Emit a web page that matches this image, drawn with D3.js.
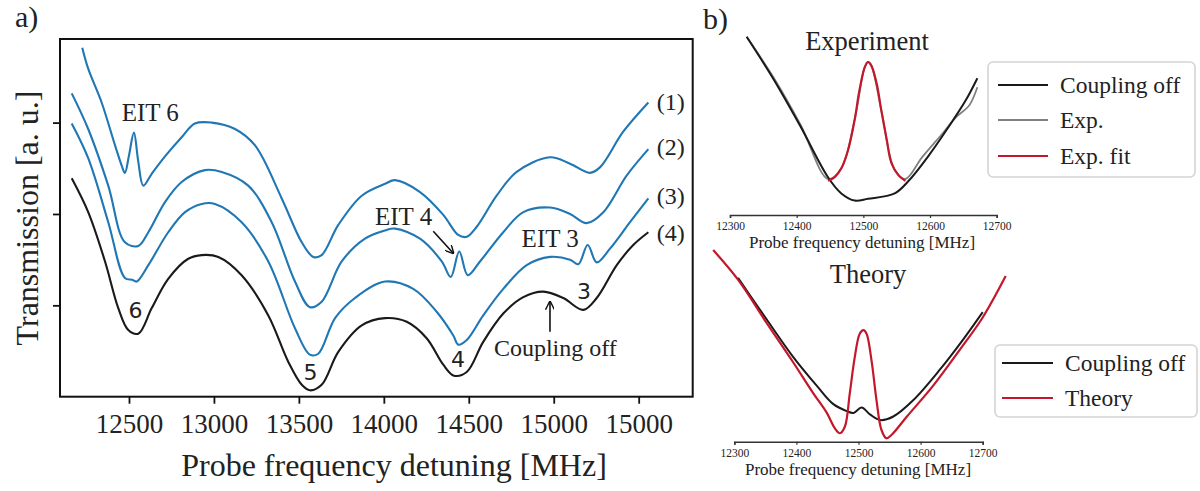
<!DOCTYPE html>
<html><head><meta charset="utf-8">
<script src="https://cdn.jsdelivr.net/npm/d3@7"></script>
<style>
body{margin:0;background:#fff;}
svg{display:block;}
.serif{font-family:"Liberation Serif","DejaVu Serif",serif;fill:#222;}
.sans{font-family:"DejaVu Sans",sans-serif;fill:#222;}
</style>
</head><body>
<svg id="c" width="1200" height="491"></svg>
<script>
// ---------- Panel a) data ----------
const ticksA = [12500,13000,13500,14000,14500,15000,15500];
const tickLabelsA = ["12500","13000","13500","14000","14500","15000","15000"];
const yTicksA = [1,2,3];

const f1 = [12225,12260,12339,12418,12457,12476,12500,12529,12555,12584,12634,12712,12810,12888,12987,13124,13242,13399,13517,13585,13634,13732,13870,14007,14066,14213,14350,14438,14488,14547,14664,14782,14978,15096,15213,15272,15409,15557];
const t1 = [3.82,3.59,3.22,2.75,2.53,2.45,2.64,2.89,2.57,2.31,2.44,2.63,2.84,2.99,3.00,2.93,2.75,2.17,1.69,1.53,1.55,1.88,2.20,2.33,2.37,2.24,1.99,1.77,1.75,1.86,2.20,2.46,2.62,2.55,2.45,2.51,2.90,3.22];

const f2 = [12163,12260,12378,12476,12555,12614,12712,12810,12947,13046,13202,13340,13477,13565,13634,13752,13889,14007,14066,14213,14341,14394,14444,14494,14566,14703,14821,14978,15096,15194,15292,15429,15557];
const t2 = [3.32,2.93,2.31,1.69,1.65,1.80,2.13,2.35,2.48,2.46,2.31,1.91,1.26,0.98,1.04,1.48,1.73,1.82,1.84,1.73,1.48,1.31,1.59,1.33,1.48,1.80,2.02,2.07,2.00,1.90,2.02,2.42,2.71];

const f3 = [12163,12260,12378,12476,12519,12545,12614,12731,12830,12928,13006,13163,13320,13477,13565,13614,13713,13830,14007,14173,14311,14409,14438,14488,14585,14703,14841,14978,15096,15145,15200,15253,15331,15449,15557];
const t3 = [2.99,2.61,1.91,1.30,1.28,1.26,1.44,1.80,2.02,2.11,2.11,1.91,1.48,0.75,0.46,0.47,0.86,1.08,1.26,1.18,0.93,0.67,0.57,0.62,0.89,1.18,1.44,1.53,1.50,1.45,1.66,1.47,1.62,1.91,2.17];

const f4 = [12163,12260,12359,12437,12496,12555,12634,12731,12849,12928,13026,13163,13320,13438,13517,13565,13634,13732,13870,14007,14135,14252,14350,14413,14488,14585,14703,14821,14939,15056,15174,15253,15371,15468,15557];
const t4 = [2.39,2.02,1.48,0.97,0.73,0.69,0.97,1.29,1.51,1.55,1.53,1.33,0.89,0.38,0.13,0.07,0.13,0.49,0.78,0.86,0.82,0.64,0.35,0.23,0.27,0.60,0.91,1.09,1.15,1.08,0.95,1.08,1.44,1.66,1.80];

// ---------- Panel b) data ----------
const ticksB = [12300,12400,12500,12600,12700];

const expOffF = [12325,12366,12406,12447,12467,12487,12507,12547,12568,12598,12628,12654,12671];
const expOffT = [0.99,0.75,0.49,0.21,0.12,0.08,0.09,0.12,0.19,0.33,0.49,0.64,0.76];

const expF = [12325,12366,12406,12447,12467,12487,12502,12507,12512,12527,12547,12563,12588,12618,12638,12659,12671];
const expT = [0.99,0.76,0.50,0.20,0.26,0.53,0.82,0.85,0.83,0.58,0.25,0.20,0.32,0.45,0.54,0.61,0.71];

const fitF = [12447,12457,12467,12477,12487,12494,12502,12507,12512,12520,12527,12535,12542,12553,12563];
const fitT = [0.19,0.21,0.26,0.36,0.53,0.69,0.82,0.85,0.83,0.73,0.58,0.42,0.29,0.22,0.19];

const thOffF = [12306,12352,12395,12433,12459,12481,12492,12505,12519,12535,12556,12588,12631,12669,12700];
const thOffT = [0.91,0.68,0.47,0.31,0.21,0.17,0.16,0.19,0.15,0.12,0.14,0.23,0.40,0.57,0.72];

const thF = [12266,12306,12352,12395,12427,12449,12462,12470,12478,12486,12494,12502,12508,12513,12521,12529,12537,12545,12553,12578,12620,12663,12700,12737];
const thT = [1.065,0.90,0.66,0.44,0.27,0.16,0.074,0.047,0.083,0.27,0.47,0.60,0.62,0.60,0.45,0.23,0.065,0.019,0.037,0.14,0.31,0.51,0.69,0.92];

const BLUE = "#1f77b4", BLACK = "#1a1a1a", RED = "#c4172b", GREY = "#808080";

const svg = d3.select("#c");
const zip = (a,b) => a.map((v,i)=>[v,b[i]]);
const CURVE = d3.curveCatmullRom.alpha(0.5);

// marker
svg.append("defs").append("marker").attr("id","arr").attr("viewBox","0 0 10 10")
  .attr("refX",9).attr("refY",5).attr("markerWidth",9).attr("markerHeight",9)
  .attr("orient","auto-start-reverse").attr("markerUnits","userSpaceOnUse")
  .append("path").attr("d","M0,0 L10,5 L0,10").attr("fill","none").attr("stroke","#111").attr("stroke-width",1.6);

// ===== Panel a =====
const xA = d3.scaleLinear([12094,15818],[60,692.7]);
const yA = d3.scaleLinear([0,3.915],[396.7,39]);
const gA = svg.append("g");
const lineA = d3.line().x(d=>xA(d[0])).y(d=>yA(d[1])).curve(CURVE);

[[f1,t1,BLUE],[f2,t2,BLUE],[f3,t3,BLUE],[f4,t4,BLACK]].forEach(([f,t,c])=>{
  gA.append("path").attr("d",lineA(zip(f,t))).attr("fill","none").attr("stroke",c).attr("stroke-width",2.1).attr("stroke-linejoin","round");
});

const axB = gA.append("g").attr("transform","translate(0,396.7)")
  .call(d3.axisBottom(xA).tickValues(ticksA).tickFormat((d,i)=>tickLabelsA[i]).tickSize(7).tickPadding(10));
axB.select(".domain").remove();
axB.selectAll("line").attr("stroke","#111").attr("stroke-width",1.8);
axB.selectAll("text").attr("class","serif").style("font-size","27px").attr("fill","#222");

const axL = gA.append("g").attr("transform","translate(60,0)")
  .call(d3.axisLeft(yA).tickValues(yTicksA).tickFormat("").tickSize(7));
axL.select(".domain").remove();
axL.selectAll("line").attr("stroke","#111").attr("stroke-width",1.8);

gA.append("rect").attr("x",xA(12094)).attr("y",yA(3.915)).attr("width",xA(15818)-xA(12094)).attr("height",yA(0)-yA(3.915))
  .attr("fill","none").attr("stroke","#111").attr("stroke-width",2);

gA.append("text").attr("class","serif").attr("x",394).attr("y",476).attr("text-anchor","middle").style("font-size","32px").text("Probe frequency detuning [MHz]");
gA.append("text").attr("class","serif").attr("transform","translate(38,218) rotate(-90)").attr("text-anchor","middle").style("font-size","32px").text("Transmission [a. u.]");
svg.append("text").attr("class","serif").attr("x",15).attr("y",27).style("font-size","30px").text("a)");

// annotations (data coords)
const annA = [
  ["EIT 6",12457,3.02],["EIT 4",13948,1.88],["EIT 3",14811,1.64]
];
annA.forEach(([s,f,v])=>gA.append("text").attr("class","serif").attr("x",xA(f)).attr("y",yA(v)).style("font-size","25px").text(s));
gA.append("text").attr("class","serif").attr("x",xA(14648)).attr("y",yA(0.445)).style("font-size","24px").text("Coupling off");
[["(1)",3.23],["(2)",2.74],["(3)",2.20],["(4)",1.80]].forEach(([s,v])=>
  gA.append("text").attr("class","serif").attr("x",xA(15606)).attr("y",yA(v)).attr("dy","0.35em").style("font-size","24px").text(s));
[["6",12538,0.95],["5",13568,0.27],["4",14437,0.41],["3",15178,1.155]].forEach(([s,f,v])=>
  gA.append("text").attr("class","sans").attr("x",xA(f)).attr("y",yA(v)).attr("dy","0.36em").attr("text-anchor","middle").style("font-size","22px").text(s));
gA.append("line").attr("x1",xA(14291)).attr("y1",yA(1.81)).attr("x2",xA(14409)).attr("y2",yA(1.57))
  .attr("stroke","#111").attr("stroke-width",1.6).attr("marker-end","url(#arr)");
gA.append("line").attr("x1",xA(14978)).attr("y1",yA(0.71)).attr("x2",xA(14978)).attr("y2",yA(1.04))
  .attr("stroke","#111").attr("stroke-width",1.6).attr("marker-end","url(#arr)");

// ===== Panel b =====
svg.append("text").attr("class","serif").attr("x",703).attr("y",29).style("font-size","30px").text("b)");

function smallAxis(g, x, y0){
  const ax = g.append("g").attr("transform",`translate(0,${y0})`)
    .call(d3.axisBottom(x).tickValues(ticksB).tickFormat(d3.format("d")).tickSize(3).tickPadding(4));
  ax.select(".domain").attr("stroke","#333").attr("stroke-width",1.6);
  ax.selectAll("line").attr("stroke","#333").attr("stroke-width",1.2);
  ax.selectAll("text").attr("class","serif").style("font-size","11.5px").attr("fill","#222");
}

// Experiment
const xE = d3.scaleLinear([12300,12700],[730,996.7]);
const yE = d3.scaleLinear([0,1],[215,35]);
const gE = svg.append("g");
const lineE = d3.line().x(d=>xE(d[0])).y(d=>yE(d[1])).curve(CURVE);
gE.append("path").attr("d",lineE(zip(expF,expT))).attr("fill","none").attr("stroke",GREY).attr("stroke-width",1.8);
gE.append("path").attr("d",lineE(zip(expOffF,expOffT))).attr("fill","none").attr("stroke",BLACK).attr("stroke-width",2);
gE.append("path").attr("d",lineE(zip(fitF,fitT))).attr("fill","none").attr("stroke",RED).attr("stroke-width",2.2);
smallAxis(gE,xE,215);
gE.append("text").attr("class","serif").attr("x",862).attr("y",248).attr("text-anchor","middle").style("font-size","17px").text("Probe frequency detuning [MHz]");
gE.append("text").attr("class","serif").attr("x",867).attr("y",50).attr("text-anchor","middle").style("font-size","26.5px").text("Experiment");

// Theory
const xT = d3.scaleLinear([12300,12700],[734.3,982.7]);
const yT = d3.scaleLinear([0,1],[441.7,261.7]);
const gT = svg.append("g");
const lineT = d3.line().x(d=>xT(d[0])).y(d=>yT(d[1])).curve(CURVE);
gT.append("path").attr("d",lineT(zip(thOffF,thOffT))).attr("fill","none").attr("stroke",BLACK).attr("stroke-width",2);
gT.append("path").attr("d",lineT(zip(thF,thT))).attr("fill","none").attr("stroke",RED).attr("stroke-width",2.2);
smallAxis(gT,xT,441.7);
gT.append("text").attr("class","serif").attr("x",858).attr("y",475).attr("text-anchor","middle").style("font-size","17px").text("Probe frequency detuning [MHz]");
gT.append("text").attr("class","serif").attr("x",868).attr("y",283).attr("text-anchor","middle").style("font-size","26.5px").text("Theory");

// Legends
function legend(x,y,w,h,items,lx,tx,rows){
  const g = svg.append("g");
  g.append("rect").attr("x",x).attr("y",y).attr("width",w).attr("height",h).attr("rx",5)
    .attr("fill","#fff").attr("stroke","#d4d4d4").attr("stroke-width",1.6);
  items.forEach(([s,c],i)=>{
    g.append("line").attr("x1",lx[0]).attr("x2",lx[1]).attr("y1",rows[i]).attr("y2",rows[i]).attr("stroke",c).attr("stroke-width",2);
    g.append("text").attr("class","serif").attr("x",tx).attr("y",rows[i]).attr("dy","0.32em").style("font-size","23.5px").text(s);
  });
}
legend(988,62,207,115,[["Coupling off",BLACK],["Exp.",GREY],["Exp. fit",RED]],[998,1048],1060,[85,120,156]);
legend(995,345,202,72,[["Coupling off",BLACK],["Theory",RED]],[1002,1053],1065,[363,398]);
</script>
</body></html>
